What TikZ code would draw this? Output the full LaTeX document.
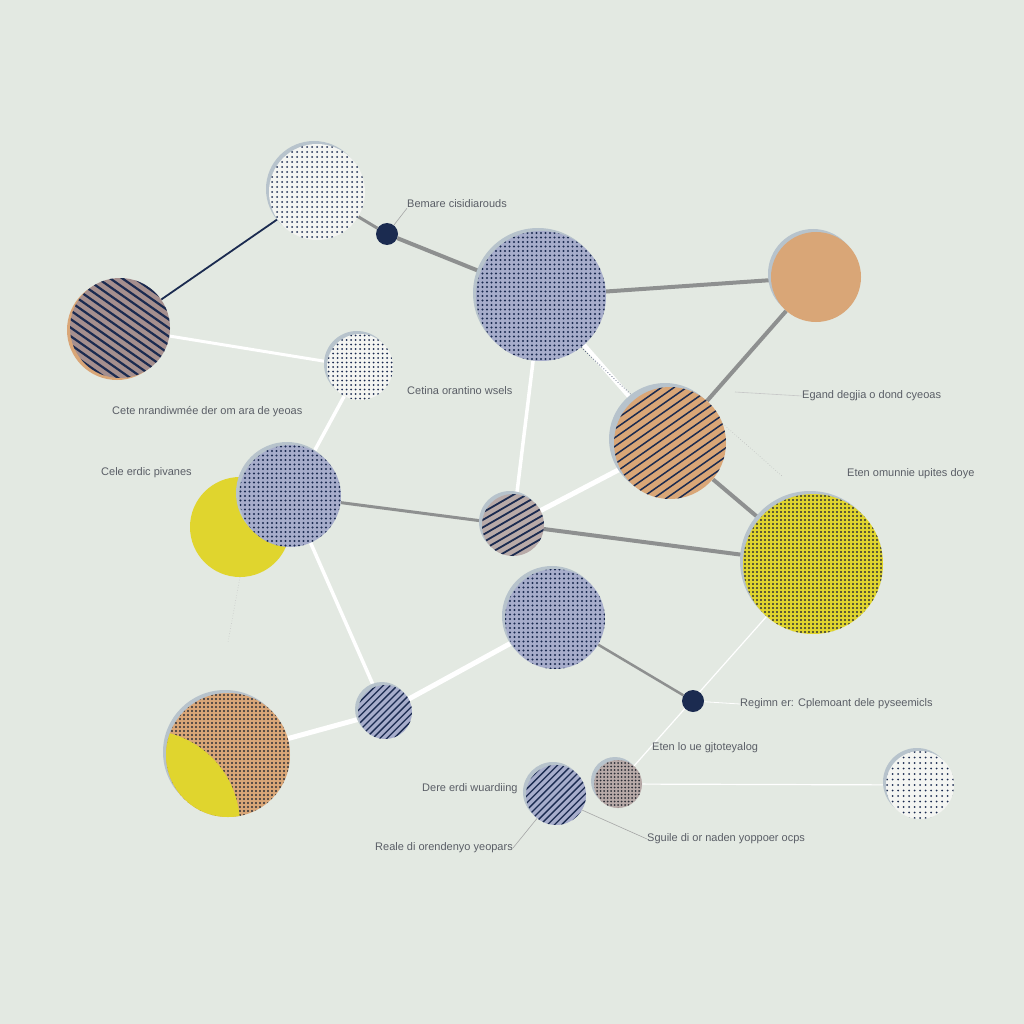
\documentclass[tikz,border=0pt]{standalone}
\usepackage{fontspec}
\setmainfont{Liberation Sans}
\usetikzlibrary{shadows}
\definecolor{bgc}{HTML}{E3E9E2}
\definecolor{navy}{HTML}{1B2B50}
\definecolor{lav}{HTML}{A7ADCB}
\definecolor{ora}{HTML}{D9A677}
\definecolor{yel}{HTML}{E0D52E}
\definecolor{greyl}{HTML}{8E9090}
\definecolor{shc}{HTML}{B7C3CC}
\definecolor{txt}{HTML}{5A5E66}
\definecolor{paper}{HTML}{F4F5F2}
\definecolor{mauve}{HTML}{A58F8E}
\definecolor{taupe}{HTML}{B8AAA8}
\definecolor{dotd}{HTML}{2E3038}
\pgfdeclarelayer{back}
\pgfdeclarelayer{edges}
\pgfsetlayers{back,edges,main}
\tikzset{
  bub/.style={circle, inner sep=0pt, minimum size=#1pt,
    drop shadow={shadow xshift=-3pt, shadow yshift=3pt, fill=shc, opacity=1}},
  dotpat/.style n args={4}{path picture={
    \begin{scope}[shift={(path picture bounding box.center)}]
    \foreach \j in {-#3,...,#3}{\draw[#1, line width=#4pt, line cap=round, dash pattern=on 0pt off #2pt] (-#3*#2,\j*#2) -- (#3*#2+0.1,\j*#2);}
    \end{scope}}},
  stripes/.style n args={5}{path picture={
    \begin{scope}[shift={(path picture bounding box.center)}]
    \foreach \k in {-#3,...,#3}{\draw[#1, line width=#4pt]
      ({\k*#2*sin(#5)-100*cos(#5)}, {\k*#2*cos(#5)+100*sin(#5)}) --
      ({\k*#2*sin(#5)+100*cos(#5)}, {\k*#2*cos(#5)-100*sin(#5)});}
    \end{scope}}},
  hub/.style={circle, inner sep=0pt, minimum size=22pt, fill=navy},
  greyE/.style={draw=greyl, line width=#1pt},
  greyE/.default=4,
  whiteE/.style={draw=white, line width=#1pt},
  whiteE/.default=4.5,
  thinW/.style={draw=white, line width=1.2pt},
  thinG/.style={draw=greyl!80, line width=0.6pt},
  lab/.style={anchor=west, inner sep=0pt, text=txt, font=\fontsize{11}{13}\selectfont},
}
\begin{document}
\begin{tikzpicture}[x=1pt,y=-1pt]
\begin{pgfonlayer}{back}
\fill[bgc] (0,0) rectangle (1024,1024);
\end{pgfonlayer}
\useasboundingbox (0,0) rectangle (1024,1024);

% circles
\node[bub=96, fill=paper, dotpat={navy}{5}{14}{2.0}] (n1) at (317,192) {};
\node[hub] (n2) at (387,234) {};
\node[circle, inner sep=0pt, minimum size=100pt, fill=mauve,
  drop shadow={shadow xshift=-3pt, shadow yshift=-2pt, fill=ora, opacity=1},
  stripes={navy}{7}{10}{2.2}{-35}] (n3) at (120,328) {};
\node[bub=66, fill=paper, dotpat={navy}{4.5}{11}{2.0}] (n4) at (360,367) {};
\node[bub=130, fill=lav, dotpat={navy}{4.5}{21}{2.3}] (n5) at (541,296) {};
\node[bub=90, fill=ora] (n6) at (816,277) {};
\node[circle, inner sep=0pt, minimum size=112pt, fill=ora,
  drop shadow={shadow xshift=-5pt, shadow yshift=4pt, fill=shc, opacity=1},
  stripes={navy}{7.2}{10}{1.5}{35}] (n7) at (670,443) {};
\node[circle, inner sep=0pt, minimum size=100pt, fill=yel] (n8) at (240,527) {};
\node[bub=102, fill=lav, dotpat={navy}{4.5}{17}{2.3}] (n9) at (290,496) {};
\node[bub=62, fill=taupe, stripes={navy}{6.5}{7}{1.8}{30}] (n10) at (513,525) {};
\node[bub=140, fill=yel, dotpat={dotd}{4}{25}{2.3}] (n11) at (813,564) {};
\node[bub=100, fill=lav, dotpat={navy}{4.5}{16}{2.3}] (n12) at (555,619) {};
\node[hub] (n13) at (693,701) {};
\node[bub=54, fill=lav, stripes={navy}{5}{8}{1.3}{45}] (n14) at (385,712) {};
\node[bub=124, fill=ora, dotpat={dotd}{4}{22}{2.2}] (n15) at (228,755) {};
\begin{scope}
  \clip (228,755) circle (62);
  \fill[yel] (145,825) circle (95);
\end{scope}
\node[bub=60, fill=lav, stripes={navy}{5}{9}{1.3}{45}] (n16) at (556,795) {};
\node[bub=48, fill=taupe, dotpat={dotd}{3.5}{10}{2.0}] (n17) at (618,784) {};
\node[bub=68, fill=paper, dotpat={navy}{5.5}{9}{2.0}] (n18) at (920,785) {};

% labels
\node[lab] (l1) at (407,204) {Bemare cisidiarouds};
\node[lab] (l2) at (112,412) {Cete nrandiwmée der om ara de yeoas};
\node[lab] (l3) at (407,391) {Cetina orantino wsels};
\node[lab] (l4) at (802,396) {Egand degjia o dond cyeoas};
\node[lab] (l5) at (101,473) {Cele erdic pivanes};
\node[lab] (l6) at (847,474) {Eten omunnie upites doye};
\node[lab] (l7) at (740,704) {Regimn er: Cplemoant dele pyseemicls};
\node[lab] (l8) at (652,748) {Eten lo ue gjtoteyalog};
\node[lab] (l9) at (422,789) {Dere erdi wuardiing};
\node[lab] (l10) at (375,848) {Reale di orendenyo yeopars};
\node[lab] (l11) at (647,839) {Sguile di or naden yoppoer ocps};

\coordinate (c4) at (735,392);
\coordinate (c6) at (782,476);
\coordinate (c8) at (228,642);

% connectors
\begin{pgfonlayer}{edges}
\draw[draw=navy, line width=1.8pt] (n3) -- (n1);
\draw[greyE=3] (n1) -- (n2);
\draw[greyE] (n2) -- (n5);
\draw[greyE] (n5) -- (n6);
\draw[greyE] (n6) -- (n7);
\draw[whiteE] (n5) -- (n7);
\draw[draw=navy!70, line width=0.8pt, dotted] (n5.-52) -- (n7.128);
\draw[whiteE=3.5] (n5) -- (n10);
\draw[whiteE=3] (n3) -- (n4);
\draw[whiteE=3.5] (n4) -- (n9);
\draw[greyE=3] (n9) -- (n10);
\draw[whiteE=5] (n10) -- (n7);
\draw[greyE] (n10) -- (n11);
\draw[greyE] (n7) -- (n11);
\draw[whiteE=3.5] (n9) -- (n14);
\draw[whiteE=5] (n14) -- (n12);
\draw[whiteE=5] (n15) -- (n14);
\draw[greyE=2.5] (n12) -- (n13);
\draw[thinW] (n11) -- (n17);
\draw[thinW] (n17) -- (n18);
\draw[thinG] (n2) -- (l1.south west);
\draw[thinG, draw=greyl!50] (c4) -- (l4.west);
\draw[draw=greyl!60, line width=0.6pt, dotted] (n7.20) -- (c6);
\draw[draw=greyl!50, line width=0.6pt, dotted] (n8.south) -- (c8);
\draw[thinW, line width=0.8pt] (n13) -- (l7.west);
\draw[thinG] (n16) -- (l10.east);
\draw[thinG] (n16.-30) -- (l11.west);
\end{pgfonlayer}
\end{tikzpicture}
\end{document}
